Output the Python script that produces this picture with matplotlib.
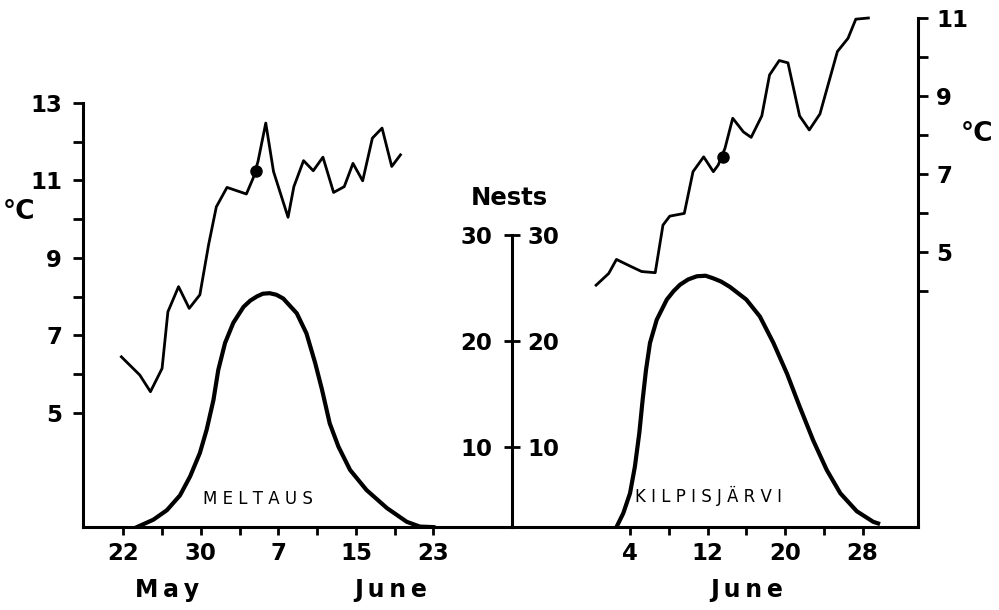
import matplotlib
matplotlib.use("Agg")
import matplotlib.pyplot as plt

# ---- data ----
# Meltaus: x = day counted from 1 May (so 1 June = 32)
meltaus_temp_day = [21.8, 23.7, 24.8, 26.0, 26.6, 27.7, 28.8, 29.9, 30.8, 31.6,
                    32.7, 34.7, 35.4, 35.9, 36.7, 37.5, 39.0, 39.6, 40.6, 41.6,
                    42.6, 43.7, 44.8, 45.7, 46.7, 47.7, 48.7, 49.7, 50.6]
meltaus_temp = [6.45, 5.98, 5.55, 6.15, 7.61, 8.26, 7.70, 8.05, 9.34, 10.32,
                10.82, 10.65, 11.06, 11.49, 12.48, 11.23, 10.05, 10.84, 11.51, 11.25,
                11.60, 10.69, 10.84, 11.44, 10.99, 12.09, 12.35, 11.36, 11.66]
meltaus_dot = (35.7, 11.25)

meltaus_nest_day = [23.4, 25.1, 26.5, 27.85, 28.9, 29.9, 30.6, 31.3, 31.8, 32.5,
                    33.35, 34.4, 35.1, 35.8, 36.4, 37.1, 37.8, 38.5, 39.9, 40.9,
                    41.8, 42.5, 43.3, 44.2, 45.4, 47.1, 49.2, 51.25, 52.6, 54.0]
meltaus_nests = [2.4, 3.1, 4.0, 5.4, 7.2, 9.4, 11.6, 14.4, 17.25, 19.8,
                 21.7, 23.2, 23.8, 24.2, 24.45, 24.5, 24.35, 24.0, 22.6, 20.7,
                 17.9, 15.4, 12.2, 10.0, 7.8, 5.9, 4.2, 2.9, 2.45, 2.4]

# Kilpisjarvi: x = day of June
kilpis_temp_day = [0.5, 1.8, 2.6, 4.0, 5.2, 6.6, 7.4, 8.1, 9.6, 10.5,
                   11.6, 12.6, 13.1, 13.8, 14.6, 15.7, 16.5, 17.6, 18.4, 19.4,
                   20.3, 21.5, 22.5, 23.6, 25.4, 26.5, 27.3, 28.6]
kilpis_temp = [4.15, 4.45, 4.81, 4.64, 4.50, 4.47, 5.69, 5.92, 5.99, 7.06,
               7.44, 7.06, 7.23, 7.66, 8.43, 8.08, 7.94, 8.49, 9.54, 9.91,
               9.85, 8.49, 8.13, 8.54, 10.14, 10.48, 10.97, 11.0]
kilpis_dot = (13.57, 7.44)

kilpis_nest_day = [2.6, 3.3, 4.0, 4.5, 4.96, 5.3, 5.65, 6.06, 6.76, 7.8,
                   8.5, 9.16, 10.0, 10.9, 11.8, 12.6, 13.4, 14.3, 16.0, 17.4,
                   18.8, 20.2, 21.5, 22.9, 24.3, 25.7, 27.4, 29.1, 29.6]
kilpis_nests = [2.4, 3.7, 5.6, 8.1, 11.3, 14.4, 17.25, 19.8, 22.0, 23.9,
                24.7, 25.3, 25.8, 26.1, 26.15, 25.9, 25.6, 25.1, 23.9, 22.3,
                19.8, 16.9, 13.8, 10.6, 7.8, 5.6, 3.9, 2.9, 2.75]

meltaus_xticks = [22, 26, 30, 34, 38, 42, 46, 50, 54]
meltaus_xlabels = ['22', '', '30', '', '7', '', '15', '', '23']
kilpis_xticks = [4, 8, 12, 16, 20, 24, 28]
kilpis_xlabels = ['4', '', '12', '', '20', '', '28']
nest_ticks = [10, 20, 30]

plt.rcParams['font.family'] = 'DejaVu Sans'
plt.rcParams['font.weight'] = 'bold'

W, H = 999.0, 610.0
fig = plt.figure(figsize=(W / 100, H / 100), dpi=100)


def box(x0, x1, y0, y1):
    return [x0 / W, 1 - y1 / H, (x1 - x0) / W, (y1 - y0) / H]


ax_l = fig.add_axes(box(83, 512, 18, 527))
ax_r = fig.add_axes(box(512, 918, 18, 527))
n_l = ax_l.twinx()
n_r = ax_r.twinx()
ax_r.yaxis.tick_right()
n_r.yaxis.tick_left()

nest_lo, nest_hi = 2.41, 50.5
for ax in (ax_l, ax_r, n_l, n_r):
    ax.patch.set_visible(False)
    for s in ax.spines.values():
        s.set_visible(False)
        s.set_linewidth(2.2)

ax_l.set_xlim(17.84, 62.11)
ax_l.set_ylim(2.06, 15.19)
ax_r.set_xlim(-8.18, 33.72)
ax_r.set_ylim(-2.05, 11.0)
n_l.set_ylim(nest_lo, nest_hi)
n_r.set_ylim(nest_lo, nest_hi)

ax_l.spines['left'].set_visible(True)
ax_l.spines['left'].set_bounds(2.06, 13)
ax_l.spines['bottom'].set_visible(True)
ax_r.spines['right'].set_visible(True)
ax_r.spines['bottom'].set_visible(True)
n_l.spines['right'].set_visible(True)
n_l.spines['right'].set_bounds(nest_lo, 30)

# temperature axes
ax_l.set_yticks([5, 7, 9, 11, 13])
ax_l.set_yticks([6, 8, 10, 12], minor=True)
ax_r.set_yticks([5, 7, 9, 11])
ax_r.set_yticks([4, 6, 8, 10], minor=True)
ax_l.tick_params(axis='y', which='both', direction='out', length=7, width=2,
                 pad=8, labelsize=16.5)
ax_r.tick_params(axis='y', which='both', direction='out', length=7, width=2,
                 pad=6, labelsize=16.5)

# date axes
ax_l.set_xticks(meltaus_xticks)
ax_l.set_xticklabels(meltaus_xlabels)
ax_r.set_xticks(kilpis_xticks)
ax_r.set_xticklabels(kilpis_xlabels)
for ax in (ax_l, ax_r):
    ax.tick_params(axis='x', direction='out', length=6, width=2, pad=5,
                   labelsize=16.5)

# nests axis in the middle
for ax, pad in ((n_l, 5), (n_r, 8)):
    ax.set_yticks(nest_ticks)
    ax.set_yticklabels([str(v) for v in nest_ticks])
    ax.tick_params(axis='y', direction='out', length=6, width=2, pad=pad,
                   labelsize=16.5)

# curves
ax_l.plot(meltaus_temp_day, meltaus_temp, color='black', lw=2.0)
ax_l.plot(*meltaus_dot, 'o', color='black', ms=8)
ax_r.plot(kilpis_temp_day, kilpis_temp, color='black', lw=2.0, clip_on=False)
ax_r.plot(*kilpis_dot, 'o', color='black', ms=8)
n_l.plot(meltaus_nest_day, meltaus_nests, color='black', lw=3.0)
n_r.plot(kilpis_nest_day, kilpis_nests, color='black', lw=3.0)

n_l.text(35.85, 4.55, 'M E L T A U S', ha='center', va='baseline',
         fontsize=12, fontweight='normal', family='DejaVu Sans')
n_r.text(12.15, 4.8, 'K I L P I S J Ä R V I', ha='center', va='baseline',
         fontsize=12, fontweight='normal', family='DejaVu Sans')

# axis titles
fig.text(19 / W, 1 - 212 / H, '°C', ha='center', va='center', fontsize=19,
         fontweight='heavy')
fig.text(977 / W, 1 - 134 / H, '°C', ha='center', va='center', fontsize=19,
         fontweight='heavy')
fig.text(509 / W, 1 - 205 / H, 'Nests', ha='center', va='baseline',
         fontsize=17.5, fontweight='heavy')
fig.text(167 / W, 1 - 597 / H, 'M\u2009a\u2009y', ha='center', va='baseline',
         fontsize=17, fontweight='heavy')
fig.text(391 / W, 1 - 597 / H, 'J\u2009u\u2009n\u2009e', ha='center',
         va='baseline', fontsize=17, fontweight='heavy')
fig.text(747 / W, 1 - 597 / H, 'J\u2009u\u2009n\u2009e', ha='center',
         va='baseline', fontsize=17, fontweight='heavy')

fig.savefig('out.png', dpi=100)
